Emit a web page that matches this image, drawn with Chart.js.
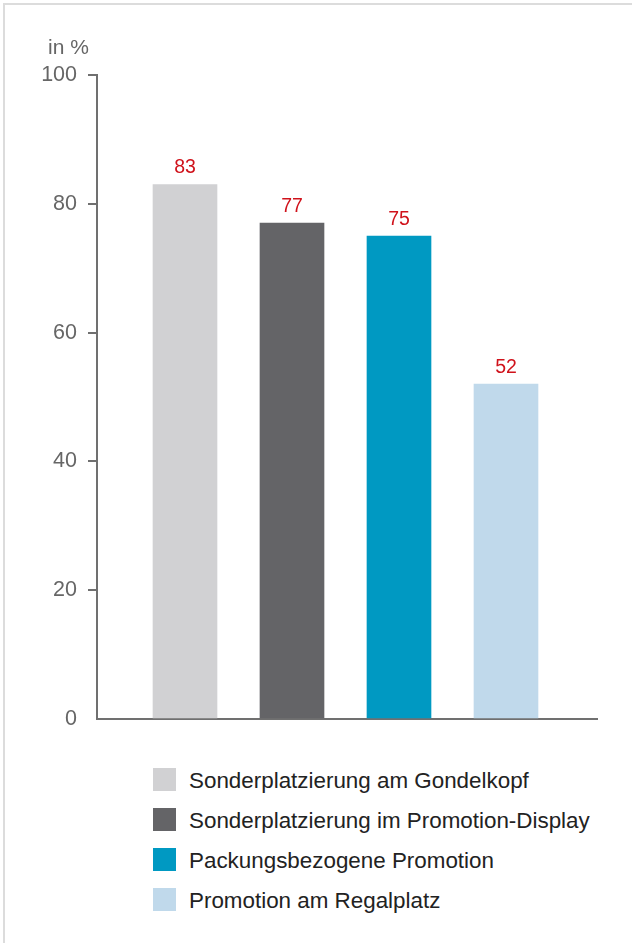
<!DOCTYPE html>
<html>
<head>
<meta charset="utf-8">
<script src="https://cdn.jsdelivr.net/npm/chart.js@4"></script>
<style>
  html, body { margin: 0; padding: 0; background: #fff; }
  body { width: 632px; height: 943px; position: relative; overflow: hidden; font-family: "Liberation Sans", Arial, sans-serif; }
  .frame { position: absolute; left: 3px; top: 3px; width: 640px; height: 960px; border: 2px solid #dcdcdc; box-sizing: border-box; }
  #chart { position: absolute; left: 0; top: 0; }
  .unit { position: absolute; left: 48px; top: 36px; font-size: 21px; line-height: 21px; color: #666; }
  .legend { position: absolute; left: 153px; top: 768px; }
  .legend-row { display: flex; align-items: center; height: 23px; margin-bottom: 17px; }
  .legend-box { width: 23px; height: 23px; margin-right: 13px; flex: none; }
  .legend-text { font-size: 22.4px; color: #222; white-space: nowrap; padding-top: 3px; }
</style>
</head>
<body>
<div class="frame"></div>
<canvas id="chart" width="632" height="760"></canvas>
<div class="unit">in %</div>
<div class="legend" id="legend"></div>
<script>
'use strict';

// data
const categories = [
    'Sonderplatzierung am Gondelkopf',
    'Sonderplatzierung im Promotion-Display',
    'Packungsbezogene Promotion',
    'Promotion am Regalplatz'
];
const shares = [83, 77, 75, 52];
const yTicks = [0, 20, 40, 60, 80, 100];

const barColors = ['#d1d1d3', '#646467', '#0099c2', '#c0d9eb'];
const axisColor = '#707070';

// one dataset per category so each gets its own legend entry
const datasets = categories.map((name, i) => ({
    label: name,
    data: [{ x: i, y: shares[i] }],
    backgroundColor: barColors[i],
    borderWidth: 0,
    barThickness: 64,
    grouped: false
}));

// red value above each bar, positioned from the bar elements
const valueLabels = {
    id: 'valueLabels',
    afterDatasetsDraw(chart) {
        const ctx = chart.ctx;
        ctx.save();
        ctx.font = '19.5px "Liberation Sans", Arial, sans-serif';
        ctx.fillStyle = '#d0121b';
        ctx.textAlign = 'center';
        ctx.textBaseline = 'alphabetic';
        chart.data.datasets.forEach((ds, i) => {
            const bar = chart.getDatasetMeta(i).data[0];
            ctx.fillText(String(ds.data[0].y), bar.x, bar.y - 11);
        });
        ctx.restore();
    }
};

const chart = new Chart(document.getElementById('chart'), {
    type: 'bar',
    data: { datasets },
    plugins: [valueLabels],
    options: {
        responsive: false,
        animation: false,
        layout: { padding: { left: 0, top: 75, right: 35, bottom: 41 } },
        plugins: {
            legend: { display: false },
            tooltip: { enabled: false }
        },
        scales: {
            x: {
                type: 'linear',
                offset: false,
                min: -0.8224,
                max: 3.8505,
                ticks: { display: false },
                grid: { display: false },
                border: { display: true, color: axisColor, width: 2 },
                afterFit: s => { s.height = 0; }
            },
            y: {
                min: 0,
                max: 100,
                afterBuildTicks: s => { s.ticks = yTicks.map(v => ({ value: v })); },
                ticks: {
                    color: '#666',
                    padding: 11,
                    font: { family: '"Liberation Sans", Arial, sans-serif', size: 21.5 }
                },
                grid: {
                    drawOnChartArea: false,
                    drawTicks: true,
                    tickLength: 9,
                    lineWidth: 2,
                    color: c => (c.tick && c.tick.value === 0 ? 'rgba(0,0,0,0)' : axisColor)
                },
                border: { display: true, color: axisColor, width: 2 },
                afterFit: s => { s.width = 97; }
            }
        }
    }
});

// vertical legend under the chart
const legendEl = document.getElementById('legend');
chart.data.datasets.forEach(ds => {
    const row = document.createElement('div');
    row.className = 'legend-row';
    const box = document.createElement('span');
    box.className = 'legend-box';
    box.style.background = ds.backgroundColor;
    const text = document.createElement('span');
    text.className = 'legend-text';
    text.textContent = ds.label;
    row.appendChild(box);
    row.appendChild(text);
    legendEl.appendChild(row);
});
</script>
</body>
</html>
